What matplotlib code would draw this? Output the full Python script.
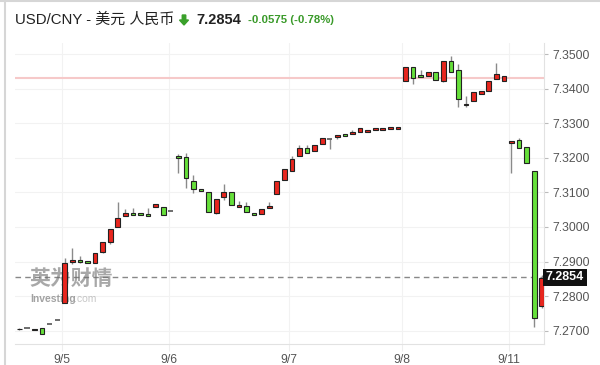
import matplotlib
matplotlib.use('Agg')
import matplotlib.pyplot as plt
from matplotlib.patches import FancyArrow
import numpy as np

plt.rcParams['font.family'] = ['Liberation Sans', 'Noto Sans CJK SC', 'DejaVu Sans']

# candle data, index = bar number
opens = [7.2706, 7.2707, 7.2703, 7.2708, 7.2719, 7.2732, 7.2780, 7.2899, 7.2905, 7.2901,
         7.2895, 7.2928, 7.2956, 7.3001, 7.3032, 7.3040, 7.3039, 7.3037, 7.3059, 7.3059,
         7.3045, 7.3204, 7.3202, 7.3133, 7.3111, 7.3102, 7.3040, 7.3086, 7.3102, 7.3058,
         7.3062, 7.3040, 7.3038, 7.3054, 7.3096, 7.3136, 7.3162, 7.3204, 7.3229, 7.3221,
         7.3239, 7.3255, 7.3259, 7.3269, 7.3268, 7.3276, 7.3275, 7.3280, 7.3281, 7.3284,
         7.3284, 7.3421, 7.3464, 7.3440, 7.3438, 7.3449, 7.3423, 7.3480, 7.3453, 7.3352,
         7.3364, 7.3385, 7.3392, 7.3427, 7.3421, 7.3244, 7.3252, 7.3230, 7.3163, 7.2771]
highs = [7.2707, 7.2707, 7.2706, 7.2708, 7.2719, 7.2732, 7.2911, 7.2938, 7.2916, 7.2901,
         7.2925, 7.2956, 7.2994, 7.3071, 7.3051, 7.3056, 7.3039, 7.3056, 7.3065, 7.3059,
         7.3045, 7.3210, 7.3214, 7.3149, 7.3111, 7.3102, 7.3081, 7.3125, 7.3102, 7.3076,
         7.3073, 7.3040, 7.3051, 7.3073, 7.3133, 7.3168, 7.3204, 7.3237, 7.3237, 7.3237,
         7.3256, 7.3255, 7.3267, 7.3269, 7.3280, 7.3285, 7.3280, 7.3285, 7.3285, 7.3289,
         7.3290, 7.3462, 7.3464, 7.3454, 7.3449, 7.3449, 7.3481, 7.3494, 7.3472, 7.3379,
         7.3389, 7.3392, 7.3422, 7.3475, 7.3437, 7.3250, 7.3258, 7.3230, 7.3163, 7.2860]
lows = [7.2703, 7.2707, 7.2703, 7.2690, 7.2719, 7.2732, 7.2780, 7.2894, 7.2896, 7.2895,
        7.2895, 7.2925, 7.2950, 7.3001, 7.3032, 7.3034, 7.3036, 7.3032, 7.3059, 7.3034,
        7.3045, 7.3155, 7.3113, 7.3099, 7.3105, 7.3043, 7.3038, 7.3079, 7.3064, 7.3058,
        7.3043, 7.3035, 7.3038, 7.3054, 7.3096, 7.3136, 7.3162, 7.3204, 7.3213, 7.3221,
        7.3239, 7.3225, 7.3255, 7.3262, 7.3268, 7.3276, 7.3275, 7.3280, 7.3281, 7.3284,
        7.3284, 7.3421, 7.3413, 7.3433, 7.3438, 7.3425, 7.3418, 7.3448, 7.3346, 7.3346,
        7.3364, 7.3385, 7.3392, 7.3427, 7.3421, 7.3155, 7.3229, 7.3186, 7.2712, 7.2767]
closes = [7.2704, 7.2707, 7.2706, 7.2690, 7.2719, 7.2732, 7.2897, 7.2905, 7.2899, 7.2896,
          7.2925, 7.2956, 7.2994, 7.3026, 7.3040, 7.3034, 7.3036, 7.3032, 7.3065, 7.3034,
          7.3045, 7.3199, 7.3141, 7.3111, 7.3105, 7.3043, 7.3081, 7.3102, 7.3064, 7.3064,
          7.3043, 7.3035, 7.3051, 7.3060, 7.3133, 7.3168, 7.3197, 7.3229, 7.3213, 7.3237,
          7.3256, 7.3255, 7.3267, 7.3262, 7.3276, 7.3285, 7.3280, 7.3285, 7.3285, 7.3289,
          7.3290, 7.3462, 7.3431, 7.3433, 7.3449, 7.3425, 7.3481, 7.3448, 7.3371, 7.3357,
          7.3389, 7.3392, 7.3422, 7.3443, 7.3437, 7.3250, 7.3229, 7.3186, 7.2738, 7.2853]

day_labels = ['9/5', '9/6', '9/7', '9/8', '9/11']
day_pos = [5.63, 19.75, 35.6, 50.5, 64.7]
price_ticks = [7.27, 7.28, 7.29, 7.30, 7.31, 7.32, 7.33, 7.34, 7.35]
prev_close = 7.3430
last_price = 7.2854

o = np.array(opens)
h = np.array(highs)
l = np.array(lows)
c = np.array(closes)
x = np.arange(len(o))

fig = plt.figure(figsize=(6, 3.65), dpi=100)
ax = fig.add_axes([15/600, 21/365, 529/600, 301/365])

up_col = '#e8261e'
dn_col = '#66e03a'

# wicks
ax.vlines(x, l, h, color='#8a8a8a', lw=1, zorder=2)

flat = np.abs(c - o) < 0.00005
body = ~flat
colors = np.where(c[body] >= o[body], up_col, dn_col)
ax.bar(x[body], np.abs(c - o)[body], bottom=np.minimum(o, c)[body], width=0.62,
       color=colors, edgecolor='#222222', linewidth=0.8, zorder=3)
ax.hlines(o[flat], x[flat] - 0.35, x[flat] + 0.35, color='#555555', lw=1.2, zorder=3)

# reference lines
ax.axhline(prev_close, color='#f6c9c9', lw=1.5, zorder=1)
ax.axhline(last_price, color='#888888', lw=1, ls=(0, (4, 3)), zorder=1)

ymin, ymax = 7.26615, 7.3532
ax.set_xlim(-0.57, 69.3)
ax.set_ylim(ymin, ymax)
ax.set_yticks(price_ticks)
ax.set_yticklabels(['%.4f' % p for p in price_ticks])
ax.set_xticks(day_pos)
ax.set_xticklabels(day_labels)
ax.yaxis.tick_right()
ax.grid(True, color='#f2f2f2', lw=0.8, zorder=0)
ax.set_axisbelow(True)
for s in ['top', 'left']:
    ax.spines[s].set_visible(False)
ax.spines['right'].set_color('#e2e2e2')
ax.spines['bottom'].set_color('#e2e2e2')
ax.tick_params(axis='y', length=3, color='#bbbbbb', labelcolor='#555555', labelsize=8.8, pad=3)
ax.tick_params(axis='x', length=5, color='#eeeeee', labelcolor='#555555', labelsize=8.8, pad=2)

# last price tag
ax.text(1.003, (last_price - ymin) / (ymax - ymin), '%.4f' % last_price,
        transform=ax.transAxes, ha='left', va='center', color='white', fontsize=9,
        fontweight='bold', bbox=dict(boxstyle='square,pad=0.22', fc='#111111', ec='none'))

# watermark
ax.text(0.028, 0.195, '英为财情', transform=ax.transAxes, fontsize=15, fontweight='bold',
        color='#6f6f6f', alpha=0.6, family=['Noto Sans CJK SC'], va='baseline', zorder=1)
ax.text(0.028, 0.138, 'Investing', transform=ax.transAxes, fontsize=7.5,
        fontweight='bold', color='#666666', alpha=0.6, va='baseline', zorder=1)
ax.text(0.112, 0.138, '.com', transform=ax.transAxes, fontsize=7.5,
        color='#999999', alpha=0.55, va='baseline', zorder=1)

# frame of the widget
fig.add_artist(plt.Line2D([4.5/600, 4.5/600], [0, 1], color='#d6d6d6', lw=1.5))
fig.add_artist(plt.Line2D([0, 1], [364/365, 364/365], color='#d6d6d6', lw=1.5))

# header
fig.text(15/600, 345/365, 'USD/CNY - 美元 人民币', fontsize=10.8, color='#222222', va='center')
fig.add_artist(FancyArrow(184/600, 350/365, 0, -5/365, width=3.5/600, head_width=9/600,
                          head_length=5/365, length_includes_head=False,
                          color='#3aa02a', transform=fig.transFigure))
fig.text(196/600, 345/365, '7.2854', fontsize=10.5, fontweight='bold', color='#222222', va='center')
fig.text(248/600, 345/365, '-0.0575 (-0.78%)', fontsize=8.2, fontweight='bold', color='#3a9a2a', va='center')

fig.savefig('out.png', dpi=100)
